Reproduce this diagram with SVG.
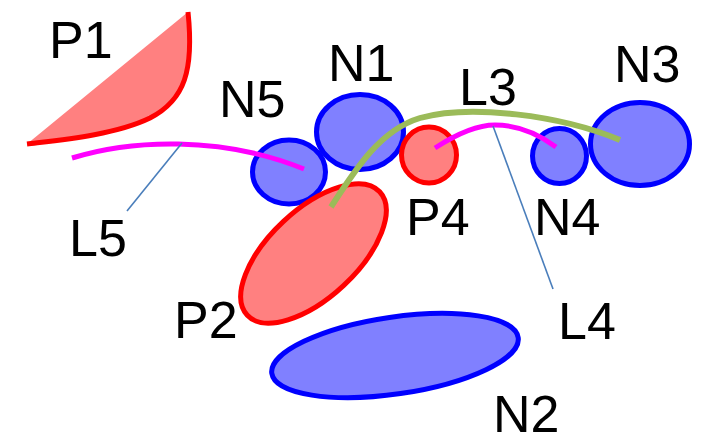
<svg xmlns="http://www.w3.org/2000/svg" width="709" height="438" viewBox="0 0 709 438">
  <style>
    .lbl { font-family: "Liberation Sans", Arial, sans-serif; font-size: 52px; fill: #000; }
    .n { fill: #8080FF; stroke: #0000FF; stroke-width: 5; }
    .p { fill: #FF8080; stroke: #FF0000; stroke-width: 5; }
    .line-m { fill: none; stroke: #FF00FF; stroke-width: 5; }
    .line-g { fill: none; stroke: #9BBB59; stroke-width: 6; }
    .leader { fill: none; stroke: #4A7EBB; stroke-width: 1.6; }
  </style>
  <rect width="709" height="438" fill="#FFFFFF"/>

  <g id="P1">
    <path d="M188,12 C194,70 185,100 150,118 C115,135 60,140 27,144 Z" fill="#FF8080" stroke="none"/>
    <path d="M188,12 C194,70 185,100 150,118 C115,135 60,140 27,144" fill="none" stroke="#FF0000" stroke-width="5"/>
    <text class="lbl" x="49" y="58">P1</text>
  </g>

  <g id="N5">
    <ellipse class="n" cx="289" cy="172" rx="36.5" ry="32"/>
    <text class="lbl" x="219" y="117">N5</text>
  </g>

  <g id="N1">
    <ellipse class="n" cx="360" cy="132" rx="43.5" ry="37.5"/>
    <text class="lbl" x="328" y="81">N1</text>
  </g>

  <g id="P4">
    <ellipse class="p" cx="429" cy="155" rx="27.5" ry="28"/>
    <text class="lbl" x="406" y="235">P4</text>
  </g>

  <g id="N4">
    <ellipse class="n" cx="559.5" cy="156" rx="27" ry="27.5"/>
    <text class="lbl" x="534" y="235">N4</text>
  </g>

  <g id="N3">
    <ellipse class="n" cx="640" cy="144" rx="49.5" ry="41.5"/>
    <text class="lbl" x="614" y="82">N3</text>
  </g>

  <g id="P2">
    <ellipse class="p" cx="313.5" cy="253.5" rx="90.5" ry="44" transform="rotate(-43 313.5 253.5)"/>
    <text class="lbl" x="174" y="338">P2</text>
  </g>

  <g id="N2">
    <ellipse class="n" cx="395" cy="355.5" rx="124.5" ry="38.5" transform="rotate(-8.3 395 355.5)"/>
    <text class="lbl" x="493" y="432">N2</text>
  </g>

  <g id="connectors">
    <path id="L5" class="line-m" d="M72,158 C130,140 220,135 304,169"/>
    <path id="L4" class="line-m" d="M435,148 C455,135 475,125 495,125 C520,125 540,135 556,147"/>
    <path id="L3" class="line-g" d="M331,207 C355,170 380,130 420,118 C470,104 560,115 620,140"/>
    <line class="leader" x1="182" y1="143" x2="127" y2="211"/>
    <line class="leader" x1="493" y1="126" x2="553" y2="289"/>
  </g>

  <g id="labels">
    <text class="lbl" x="69" y="256">L5</text>
    <text class="lbl" x="459" y="105">L3</text>
    <text class="lbl" x="558" y="339">L4</text>
  </g>
</svg>
